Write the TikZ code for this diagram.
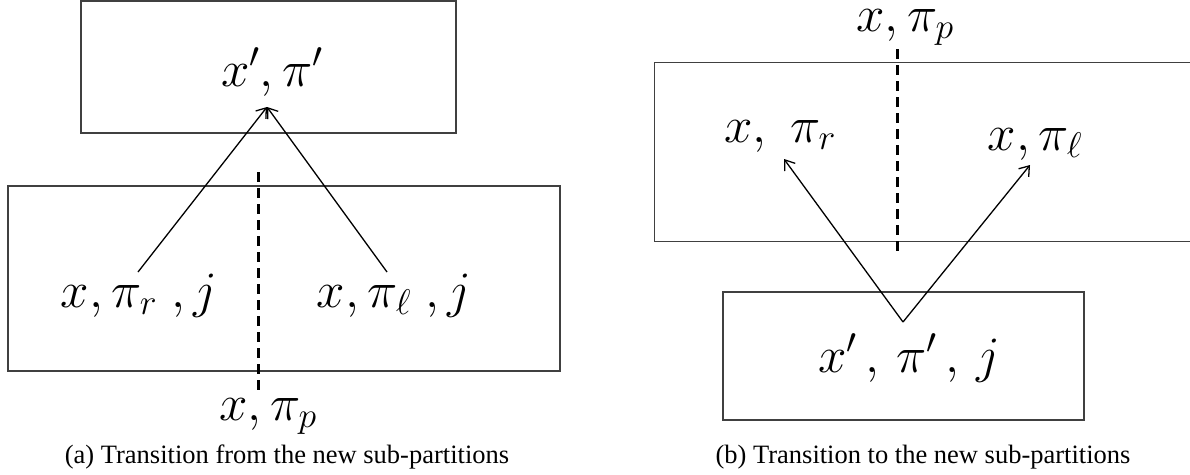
\RequirePackage{fix-cm}
\documentclass[tikz,border=0pt]{standalone}
\usepackage[no-math]{fontspec}
\newfontfamily\capfont{Liberation Serif}
\usetikzlibrary{arrows.meta}
\begin{document}
\begin{tikzpicture}[x=1pt,y=-1pt,
  box/.style={draw=black!75,line width=1.2pt,inner sep=0pt},
  mt/.style={font=\fontsize{51}{56}\selectfont,inner sep=0pt,anchor=base},
  captext/.style={font=\capfont\fontsize{26.5}{30}\selectfont,inner sep=0pt,anchor=base},
  dashline/.style={line width=3pt,dash pattern=on 10pt off 6pt},
  arr/.style={line width=1.3pt,-{Straight Barb[length=9pt,width=13pt]}}]
\useasboundingbox (0,0) rectangle (1190,474);
% ---- panel (a)
\node[box,minimum width=375pt,minimum height=132pt] (atop) at (268.5,67) {};
\node[box,minimum width=552pt,minimum height=185pt] (abot) at (284,278.5) {};
\coordinate (ads) at (258,172);
\coordinate (ade) at (258,396);
\draw[dashline] (ads) -- (ade);
\node[mt] (ta) at (272,86) {$x', \pi'$};
\node[mt] (lr) at (139,307) {$x, \pi_r\;, j$};
\node[mt] (ll) at (394,307) {$x, \pi_\ell\;, j$};
\node[mt] (lp) at (268,420) {$x, \pi_p$};
\coordinate (atip) at (267,107);
\coordinate (as1) at (138,272);
\coordinate (as2) at (387,272);
\draw[arr] (as1) -- (atip);
\draw[arr] (as2) -- (atip);
\node[captext] (capa) at (287,463) {(a) Transition from the new sub-partitions};
% ---- panel (b)
\node[box,anchor=north west,minimum width=560pt,minimum height=179pt] (btop) at (654,62) {};
\node[box,minimum width=361pt,minimum height=128pt] (bbot) at (903.5,356) {};
\coordinate (bds) at (897,49);
\coordinate (bde) at (897,253);
\draw[dashline] (bds) -- (bde);
\node[mt] (rp) at (905,31) {$x, \pi_p$};
\node[mt] (rr) at (780,142) {$x,\ \pi_r$};
\node[mt] (rl) at (1035,150) {$x, \pi_\ell$};
\node[mt] (rx) at (909,372) {$x'\,,\,\pi'\,,\,j$};
\coordinate (bs) at (903,322);
\coordinate (bt1) at (784,159);
\coordinate (bt2) at (1030,165);
\draw[arr] (bs) -- (bt1);
\draw[arr] (bs) -- (bt2);
\node[captext] (capb) at (923,463) {(b) Transition to the new sub-partitions};
\end{tikzpicture}
\end{document}
